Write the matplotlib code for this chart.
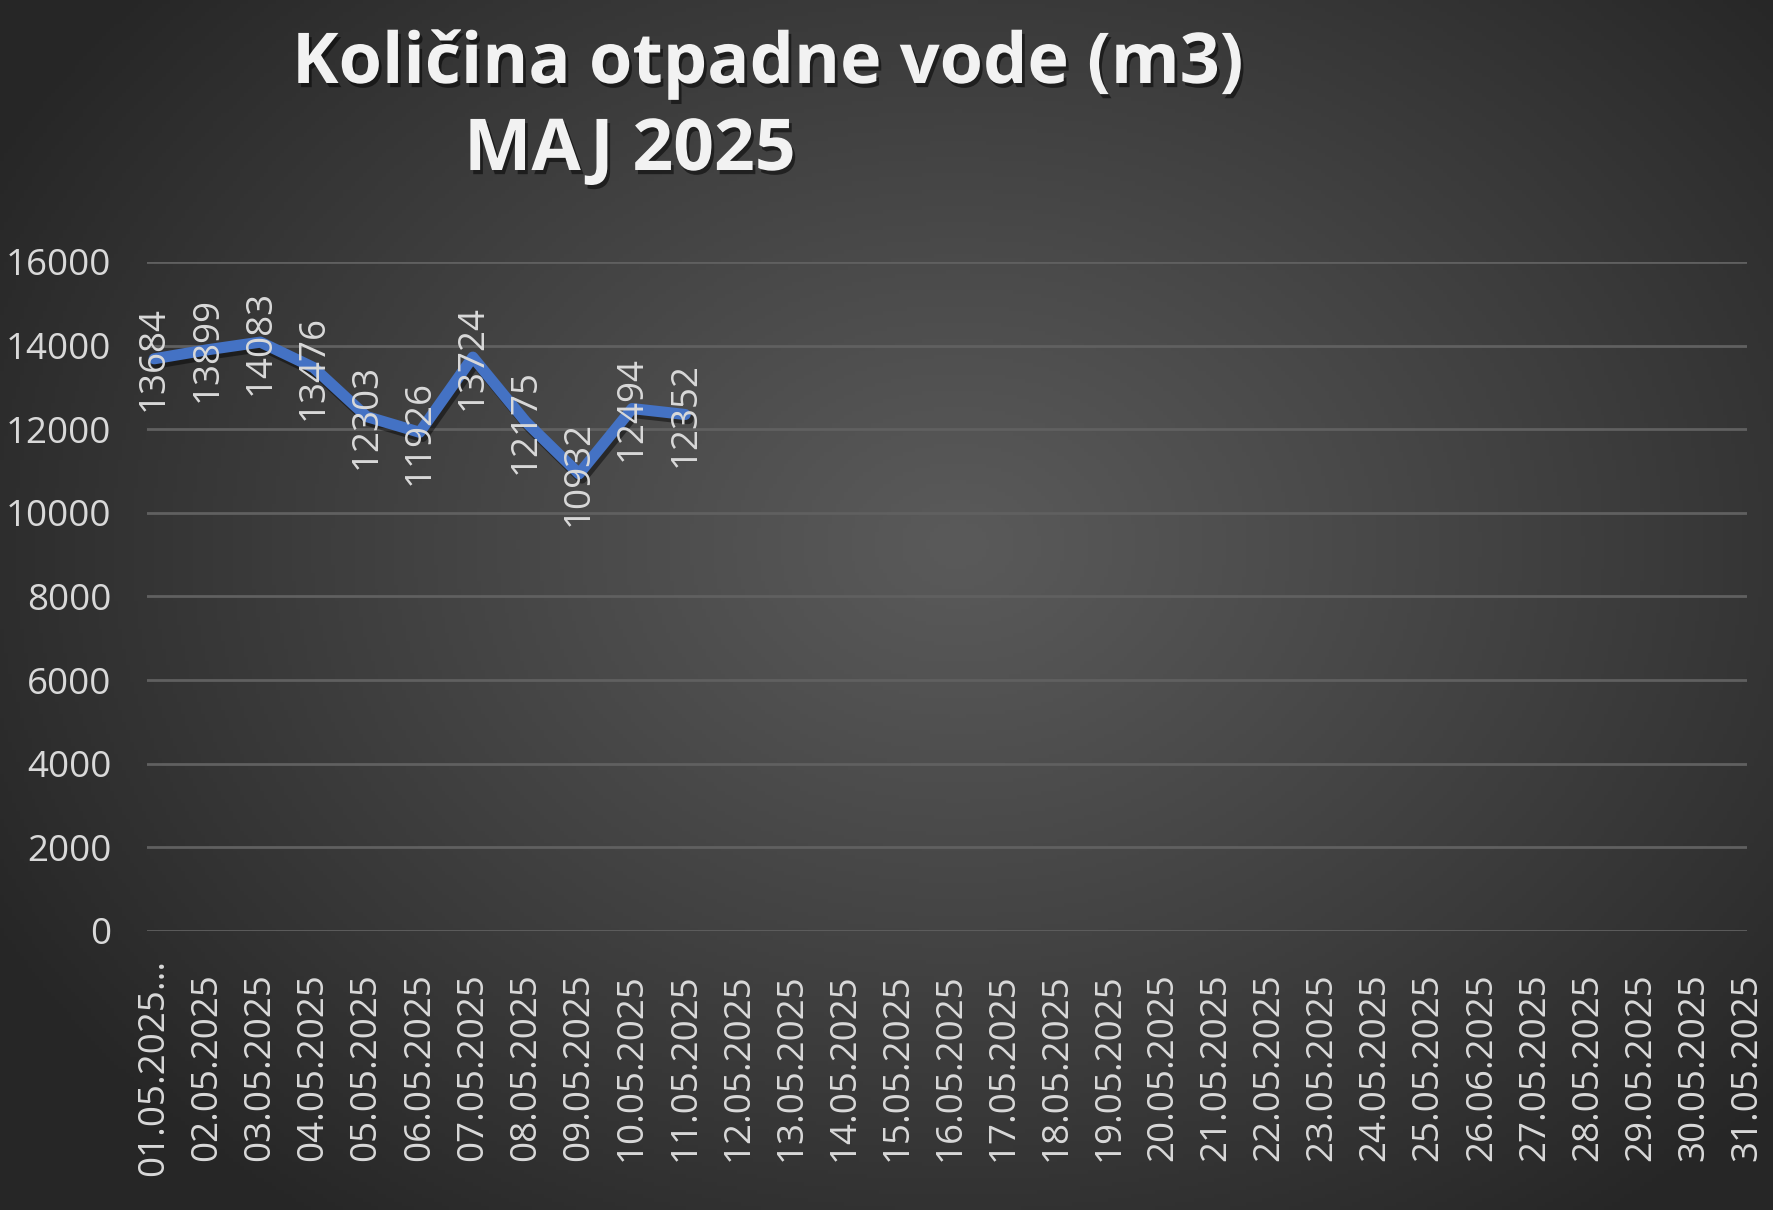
import numpy as np
import matplotlib
matplotlib.use('Agg')
import matplotlib.pyplot as plt
import matplotlib.patheffects as pe

plt.rcParams['font.family'] = ['Open Sans', 'DejaVu Sans']

# chart data
title_line1 = 'Količina otpadne vode (m3)'
title_line2 = 'MAJ 2025'
dates = ['01.05.2025...'] + ['%02d.05.2025' % d for d in range(2, 26)] + ['26.06.2025'] + \
        ['%02d.05.2025' % d for d in range(27, 32)]
values = [13684, 13899, 14083, 13476, 12303, 11926, 13724, 12175, 10932, 12494, 12352]
y_ticks = [0, 2000, 4000, 6000, 8000, 10000, 12000, 14000, 16000]

fig = plt.figure(figsize=(17.74, 12.10), dpi=100)

# radial dark-grey background like the Excel chart style
bg = fig.add_axes([0, 0, 1, 1], zorder=0)
yy, xx = np.mgrid[0:1:300j, 0:1:450j]
r = np.sqrt(((xx - 0.54) / 0.62) ** 2 + ((yy - 0.45) / 0.70) ** 2)
shade = np.clip(r, 0, 1) ** 1.1
c_in = np.array([0x5a, 0x5a, 0x5a]) / 255
c_out = np.array([0x26, 0x26, 0x26]) / 255
img = c_in + (c_out - c_in) * shade[..., None]
bg.imshow(img, extent=[0, 1, 0, 1], aspect='auto', origin='upper')
bg.axis('off')

ax = fig.add_axes([0.083, 0.2306, 0.902, 0.5529], zorder=1)
ax.patch.set_alpha(0)

x = np.arange(len(values))
ax.plot(x, values, color='#4472C4', lw=8, solid_joinstyle='round', solid_capstyle='round',
        path_effects=[pe.SimpleLineShadow(offset=(2, -3), alpha=0.45, shadow_color='black'),
                      pe.Normal()], zorder=2)
for xi, v in zip(x, values):
    ax.text(xi, v, str(v), rotation=90, ha='center', va='center',
            color='#d9d9d9', fontsize=26.5, zorder=3)

ax.set_xlim(-0.13, 30)
ax.set_ylim(0, 16000)
ax.set_yticks(y_ticks)
ax.set_xticks(np.arange(len(dates)))
ax.set_xticklabels(dates, rotation=90)
ax.grid(axis='y', color='#606060', lw=2)
ax.set_axisbelow(True)
for spine in ax.spines.values():
    spine.set_visible(False)
ax.tick_params(length=0, colors='#d9d9d9', labelsize=26.5)
ax.tick_params(axis='y', pad=26)
ax.tick_params(axis='x', pad=98)
for lab in ax.get_xticklabels():
    lab.set_va('center')

shadow = [pe.withSimplePatchShadow(offset=(2, -3), alpha=0.5, shadow_rgbFace='black')]
fig.text(292 / 1774, 1 - 83 / 1210, title_line1, fontsize=50.5, weight='bold', color='#f2f2f2',
         ha='left', va='baseline', path_effects=shadow)
fig.text(464 / 1774, 1 - 170 / 1210, title_line2, fontsize=51.5, weight='bold', color='#f2f2f2',
         ha='left', va='baseline', path_effects=shadow)

fig.savefig('out.png', dpi=100)
